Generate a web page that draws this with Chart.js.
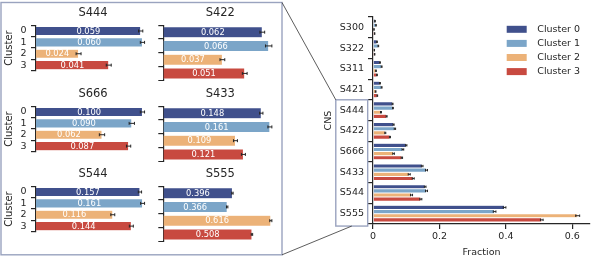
<!DOCTYPE html>
<html>
<head>
<meta charset="utf-8">
<script src="https://cdn.jsdelivr.net/npm/chart.js@4.4.1/dist/chart.umd.min.js"></script>
<style>
    html, body { margin: 0; padding: 0; background: #fff; }
    #wrap { position: relative; width: 600px; height: 269px; overflow: hidden; }
    #wrap canvas { position: absolute; }
</style>
</head>
<body>
<div id="wrap">
    <canvas id="main" width="600" height="269" style="left:0;top:0;width:600px;height:269px"></canvas>
</div>
<script>
// --- data ---
const categories    = ['S300', 'S322', 'S311', 'S421', 'S444', 'S422', 'S666', 'S433', 'S544', 'S555'];
const clusterLabels = ['Cluster 0', 'Cluster 1', 'Cluster 2', 'Cluster 3'];
const clusterTicks  = ['0', '1', '2', '3'];
const clusterColors = ['#40508c', '#7ba5c8', '#ecb278', '#c84a40'];

const frac0 = [0.006, 0.012, 0.021, 0.021, 0.059, 0.062, 0.100, 0.148, 0.157, 0.396];
const frac1 = [0.009, 0.016, 0.026, 0.026, 0.060, 0.066, 0.090, 0.161, 0.161, 0.366];
const frac2 = [0.003, 0.004, 0.009, 0.008, 0.024, 0.037, 0.062, 0.109, 0.116, 0.616];
const frac3 = [0.005, 0.005, 0.012, 0.013, 0.041, 0.051, 0.087, 0.121, 0.144, 0.508];

const err0 = [0.0008, 0.0010, 0.0012, 0.0012, 0.0012, 0.0015, 0.0020, 0.0025, 0.0025, 0.0040];
const err1 = [0.0008, 0.0010, 0.0012, 0.0012, 0.0012, 0.0020, 0.0025, 0.0030, 0.0030, 0.0040];
const err2 = [0.0005, 0.0006, 0.0010, 0.0010, 0.0014, 0.0015, 0.0025, 0.0030, 0.0030, 0.0060];
const err3 = [0.0006, 0.0007, 0.0010, 0.0010, 0.0014, 0.0015, 0.0020, 0.0030, 0.0030, 0.0040];

const xTicks    = [0, 0.2, 0.4, 0.6];
const panelCats = ['S444', 'S422', 'S666', 'S433', 'S544', 'S555'];

const fracs = [frac0, frac1, frac2, frac3];
const errs  = [err0, err1, err2, err3];

// --- look ---
const INK  = '#262626';
const EDGE = '#9aa3bf';
Chart.defaults.font.family = '"DejaVu Sans", sans-serif';
Chart.defaults.color = INK;

const errorBarPlugin = {
    id: 'errorBars',
    afterDatasetsDraw(chart, args, opts) {
        const ctx = chart.ctx, xs = chart.scales.x;
        ctx.save();
        ctx.strokeStyle = INK;
        ctx.lineWidth = 1;
        chart.data.datasets.forEach((ds, di) => {
            chart.getDatasetMeta(di).data.forEach((bar, i) => {
                const v = ds.data[i], e = ds.errors[i], y = bar.y;
                const x1 = xs.getPixelForValue(v - e), x2 = xs.getPixelForValue(v + e);
                ctx.beginPath();
                ctx.moveTo(x1, y); ctx.lineTo(x2, y);
                ctx.moveTo(x1, y - opts.cap); ctx.lineTo(x1, y + opts.cap);
                ctx.moveTo(x2, y - opts.cap); ctx.lineTo(x2, y + opts.cap);
                ctx.stroke();
            });
        });
        ctx.restore();
    }
};

const valueLabelPlugin = {
    id: 'valueLabels',
    afterDatasetsDraw(chart) {
        const ctx = chart.ctx, xs = chart.scales.x, ds = chart.data.datasets[0];
        ctx.save();
        ctx.fillStyle = '#fff';
        ctx.font = '8.3px "DejaVu Sans"';
        ctx.textAlign = 'center';
        ctx.textBaseline = 'middle';
        chart.getDatasetMeta(0).data.forEach((bar, i) => {
            ctx.fillText(ds.data[i].toFixed(3), xs.getPixelForValue(ds.data[i] / 2), bar.y + 0.5);
        });
        ctx.restore();
    }
};

const legendPlugin = {
    id: 'clusterLegend',
    afterDraw(chart, args, o) {
        const ctx = chart.ctx, a = chart.chartArea;
        ctx.save();
        ctx.font = '9.5px "DejaVu Sans"';
        ctx.textBaseline = 'middle';
        chart.data.datasets.forEach((ds, k) => {
            const y = a.top + o.top + k * o.step;
            const x = a.right - o.right;
            ctx.fillStyle = ds.backgroundColor;
            ctx.fillRect(x, y - o.boxH / 2, o.boxW, o.boxH);
            ctx.fillStyle = INK;
            ctx.fillText(ds.label, x + o.boxW + o.gap, y);
        });
        ctx.restore();
    }
};

// zoom rectangle round S444..S555, the frame round the small panels, and the two connectors
const insetPlugin = {
    id: 'insetFrame',
    afterDraw(chart, args, o) {
        const ctx = chart.ctx, xs = chart.scales.x, ys = chart.scales.y;
        const rx1 = xs.getPixelForValue(o.xFrom), rx2 = xs.getPixelForValue(o.xTo);
        const ry1 = ys.getPixelForValue(o.yFrom), ry2 = ys.getPixelForValue(o.yTo);
        const f = o.frame;
        ctx.save();
        ctx.strokeStyle = EDGE;
        ctx.lineWidth = 1.4;
        ctx.strokeRect(rx1, ry1, rx2 - rx1, ry2 - ry1);
        ctx.strokeRect(f.x, f.y, f.w, f.h);
        ctx.strokeStyle = '#333';
        ctx.lineWidth = 0.8;
        ctx.beginPath();
        ctx.moveTo(f.x + f.w, f.y);       ctx.lineTo(rx1, ry1);
        ctx.moveTo(f.x + f.w, f.y + f.h); ctx.lineTo((rx1 + rx2) / 2, ry2);
        ctx.stroke();
        ctx.restore();
    }
};

const tickGrid = { drawOnChartArea: false, drawTicks: true, tickLength: 5, color: INK, lineWidth: 1.2 };
const spine    = { display: true, color: INK, width: 1.2 };

// --- overview chart ---
const dataMax = Math.max(...fracs.flatMap((f, k) => f.map((v, i) => v + errs[k][i])));

new Chart(document.getElementById('main'), {
    type: 'bar',
    data: {
        labels: categories,
        datasets: fracs.map((f, k) => ({
            label: clusterLabels[k],
            data: f,
            errors: errs[k],
            backgroundColor: clusterColors[k],
            borderColor: 'rgba(255,255,255,0.45)',
            borderWidth: 0.5,
            categoryPercentage: 0.8,
            barPercentage: 1.0
        }))
    },
    options: {
        indexAxis: 'y',
        responsive: false,
        animation: false,
        layout: { padding: { left: 313, top: 17, right: 10, bottom: 0 } },
        plugins: {
            legend: { display: false },
            tooltip: { enabled: false },
            errorBars: { cap: 1.2 },
            clusterLegend: { top: 12.3, step: 14.1, right: 83.3, boxW: 20, boxH: 7, gap: 10.6 },
            insetFrame: { xFrom: -0.112, xTo: -0.016, yFrom: 3.5, yTo: 9.6, frame: { x: 1, y: 2.5, w: 281, h: 252.3 } }
        },
        scales: {
            x: {
                min: 0,
                max: dataMax * 1.05,
                afterBuildTicks: s => { s.ticks = xTicks.map(v => ({ value: v })); },
                afterFit: s => { s.height = 45; },
                ticks: { font: { size: 9.5 }, padding: 2, callback: v => String(v) },
                grid: tickGrid,
                border: spine,
                title: { display: true, text: 'Fraction', font: { size: 9.5 }, padding: { top: 0, bottom: 11 } }
            },
            y: {
                afterFit: s => { s.width = 60; },
                ticks: { font: { size: 9.5 }, padding: 4, autoSkip: false },
                grid: tickGrid,
                border: spine,
                title: { display: true, text: 'CNS', font: { size: 9.5 }, padding: { top: 9.6, bottom: 0 } }
            }
        }
    },
    plugins: [errorBarPlugin, legendPlugin, insetPlugin]
});

// --- small panels, one per zoomed category ---
const wrap = document.getElementById('wrap');
const rowTops = [0, 81, 161];

panelCats.forEach((cat, p) => {
    const ci    = categories.indexOf(cat);
    const vals  = fracs.map(f => f[ci]);
    const es    = errs.map(e => e[ci]);
    const first = p % 2 === 0;
    const w = first ? 152 : 125, h = 81;

    const cv = document.createElement('canvas');
    cv.width = w; cv.height = h;
    cv.style.cssText = `left:${first ? 0 : 155}px;top:${rowTops[Math.floor(p / 2)]}px;width:${w}px;height:${h}px`;
    wrap.appendChild(cv);

    const top = Math.max(...vals.map((v, i) => v + es[i]));

    new Chart(cv, {
        type: 'bar',
        data: {
            labels: clusterTicks,
            datasets: [{
                data: vals,
                errors: es,
                backgroundColor: clusterColors,
                borderColor: 'rgba(255,255,255,0.45)',
                borderWidth: 0.5,
                categoryPercentage: 1.0,
                barPercentage: 0.8
            }]
        },
        options: {
            indexAxis: 'y',
            responsive: false,
            animation: false,
            layout: { padding: { left: 0, right: first ? 2 : 2.7, top: 0, bottom: 0.7 } },
            plugins: {
                legend: { display: false },
                tooltip: { enabled: false },
                errorBars: { cap: 1.5 },
                title: {
                    display: true, text: cat, fullSize: false, color: INK,
                    font: { size: 11.5, weight: 'normal' },
                    padding: { top: 6, bottom: 5.5 }
                }
            },
            scales: {
                x: { display: false, min: 0, max: top * 1.05 },
                y: {
                    afterFit: s => { s.width = first ? 36 : 8.3; },
                    ticks: { display: first, font: { size: 9.5 }, padding: 4.5, autoSkip: false },
                    grid: tickGrid,
                    border: spine,
                    title: { display: first, text: 'Cluster', font: { size: 10 }, padding: { top: 3.8, bottom: 0 } }
                }
            }
        },
        plugins: [valueLabelPlugin, errorBarPlugin]
    });
});
</script>
</body>
</html>
